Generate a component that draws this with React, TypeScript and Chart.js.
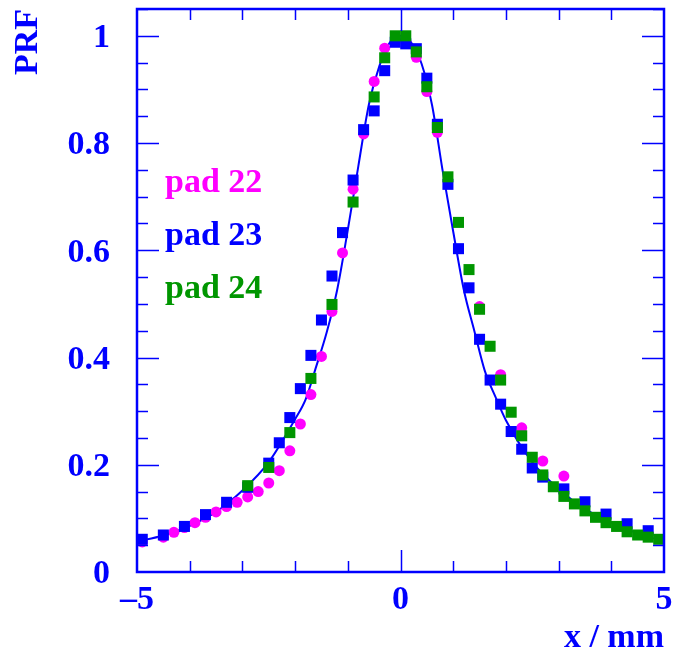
import React, { useEffect, useRef } from 'react';
import { Chart, registerables } from 'chart.js';

Chart.register(...registerables);

// ---- data ----
const pad22X = [-4.9, -4.5, -4.3, -4.1, -3.9, -3.7, -3.5, -3.3, -3.1, -2.9, -2.7, -2.5, -2.3, -2.1, -1.9, -1.7, -1.5, -1.3, -1.1, -0.9, -0.7, -0.5, -0.3, 0.1, 0.3, 0.5, 0.7, 1.5, 1.9, 2.3, 2.7, 3.1];
const pad22Y = [0.056, 0.065, 0.074, 0.083, 0.092, 0.102, 0.112, 0.122, 0.130, 0.140, 0.150, 0.166, 0.189, 0.226, 0.276, 0.331, 0.402, 0.486, 0.595, 0.714, 0.817, 0.915, 0.977, 0.990, 0.960, 0.896, 0.820, 0.495, 0.368, 0.269, 0.207, 0.179];

const pad23X = [-4.9, -4.5, -4.1, -3.7, -3.3, -2.9, -2.5, -2.3, -2.1, -1.9, -1.7, -1.5, -1.3, -1.1, -0.9, -0.7, -0.5, -0.3, -0.1, 0.1, 0.3, 0.5, 0.7, 0.9, 1.1, 1.3, 1.5, 1.7, 1.9, 2.1, 2.3, 2.5, 2.7, 3.1, 3.5, 3.9, 4.3, 4.7];
const pad23Y = [0.061, 0.069, 0.085, 0.107, 0.130, 0.158, 0.203, 0.241, 0.288, 0.342, 0.404, 0.470, 0.552, 0.633, 0.731, 0.825, 0.860, 0.935, 0.988, 0.985, 0.976, 0.921, 0.835, 0.723, 0.603, 0.530, 0.434, 0.358, 0.313, 0.262, 0.229, 0.194, 0.177, 0.155, 0.131, 0.108, 0.090, 0.077];

const pad24X = [-2.9, -2.5, -2.1, -1.7, -1.3, -0.9, -0.5, -0.3, -0.1, 0.1, 0.3, 0.5, 0.7, 0.9, 1.1, 1.3, 1.5, 1.7, 1.9, 2.1, 2.3, 2.5, 2.7, 2.9, 3.1, 3.3, 3.5, 3.7, 3.9, 4.1, 4.3, 4.5, 4.7, 4.9];
const pad24Y = [0.161, 0.195, 0.260, 0.361, 0.499, 0.690, 0.886, 0.959, 1.000, 1.000, 0.970, 0.905, 0.829, 0.737, 0.652, 0.564, 0.490, 0.421, 0.358, 0.298, 0.254, 0.214, 0.181, 0.159, 0.141, 0.127, 0.114, 0.102, 0.092, 0.085, 0.075, 0.069, 0.065, 0.061];

const fitX = [-5.0, -4.5, -4.0, -3.5, -3.0, -2.5, -2.0, -1.8, -1.6, -1.4, -1.2, -1.0, -0.8, -0.6, -0.4, -0.2, 0.0, 0.2, 0.4, 0.6, 0.8, 1.0, 1.2, 1.4, 1.6, 1.8, 2.0, 2.5, 3.0, 3.5, 4.0, 4.5, 5.0];
const fitY = [0.057, 0.068, 0.086, 0.112, 0.152, 0.205, 0.285, 0.322, 0.383, 0.447, 0.527, 0.638, 0.757, 0.872, 0.944, 0.988, 1.000, 0.988, 0.948, 0.870, 0.748, 0.635, 0.527, 0.450, 0.375, 0.327, 0.283, 0.205, 0.155, 0.118, 0.092, 0.072, 0.057];

const xTickValues = [-5, 0, 5];
const yTickValues = [0, 0.2, 0.4, 0.6, 0.8, 1.0];
const seriesNames = ['pad 22', 'pad 23', 'pad 24'];
const xTitle = 'x / mm';
const yTitle = 'PRF';

// ---- styles ----
const BLUE = '#0000ff';
const MAGENTA = '#ff00ff';
const GREEN = '#009600';
const FAMILY = '"Liberation Serif", "Times New Roman", serif';

const toPoints = (xs: number[], ys: number[]) => xs.map((x, i) => ({ x, y: ys[i] }));

const rootFramePlugin = {
  id: 'rootFrame',
  afterDatasetsDraw(chart: any) {
    const { ctx, chartArea, scales } = chart;
    const { left, right, top, bottom } = chartArea;
    const xs = scales.x;
    const ys = scales.y;
    ctx.save();
    ctx.strokeStyle = BLUE;
    ctx.lineWidth = 1.5;
    ctx.beginPath();
    // y-axis ticks (left and right, inward)
    for (let i = 1; i <= 21; i++) {
      const v = i * 0.05;
      const py = Math.round(ys.getPixelForValue(v)) + 0.5;
      const len = i % 4 === 0 ? 22 : 11;
      ctx.moveTo(left, py); ctx.lineTo(left + len, py);
      ctx.moveTo(right, py); ctx.lineTo(right - len, py);
    }
    // x-axis ticks (top and bottom, inward)
    for (let v = -4; v <= 4; v++) {
      const px = Math.round(xs.getPixelForValue(v)) + 0.5;
      const len = v === 0 ? 22 : 11;
      ctx.moveTo(px, bottom); ctx.lineTo(px, bottom - len);
      ctx.moveTo(px, top); ctx.lineTo(px, top + len);
    }
    ctx.stroke();
    // frame
    ctx.lineWidth = 2.5;
    ctx.strokeRect(left, top, right - left, bottom - top);

    // legend texts
    const colors = [MAGENTA, BLUE, GREEN];
    ctx.font = `bold 34px ${FAMILY}`;
    ctx.textAlign = 'left';
    ctx.textBaseline = 'alphabetic';
    seriesNames.forEach((name, i) => {
      ctx.fillStyle = colors[i];
      ctx.fillText(name, left + 28, top + 183 + i * 53);
    });
    ctx.restore();
  },
};

export default function App() {
  const canvasRef = useRef<HTMLCanvasElement | null>(null);

  useEffect(() => {
    const canvas = canvasRef.current;
    if (!canvas) return;
    const tickFont = { family: FAMILY, size: 34, weight: 'bold' as const, lineHeight: 1 };
    const chart = new Chart(canvas, {
      type: 'scatter',
      data: {
        datasets: [
          {
            label: 'fit',
            type: 'line',
            data: toPoints(fitX, fitY),
            borderColor: BLUE,
            borderWidth: 2,
            pointRadius: 0,
            showLine: true,
            fill: false,
            cubicInterpolationMode: 'monotone',
            order: 3,
          } as any,
          {
            label: seriesNames[0],
            data: toPoints(pad22X, pad22Y),
            pointStyle: 'circle',
            pointRadius: 5.5,
            backgroundColor: MAGENTA,
            borderColor: MAGENTA,
            borderWidth: 0,
            order: 2,
          },
          {
            label: seriesNames[1],
            data: toPoints(pad23X, pad23Y),
            pointStyle: 'rect',
            pointRadius: 7.8,
            backgroundColor: BLUE,
            borderColor: BLUE,
            borderWidth: 0,
            order: 1,
          },
          {
            label: seriesNames[2],
            data: toPoints(pad24X, pad24Y),
            pointStyle: 'rect',
            pointRadius: 7.8,
            backgroundColor: GREEN,
            borderColor: GREEN,
            borderWidth: 0,
            order: 0,
          },
        ],
      },
      options: {
        responsive: false,
        animation: false,
        devicePixelRatio: 1,
        layout: { padding: { left: 0, right: 10, top: 9, bottom: 0 } },
        plugins: {
          legend: { display: false },
          tooltip: { enabled: false },
        },
        scales: {
          x: {
            type: 'linear',
            position: 'bottom',
            min: -5,
            max: 5,
            grid: { display: false, drawTicks: false },
            border: { display: false },
            afterBuildTicks: (s: any) => { s.ticks = xTickValues.map((v) => ({ value: v })); },
            afterFit: (s: any) => {
              s.height = 83;
              s.paddingLeft = 0; s.paddingRight = 0; s.paddingTop = 0; s.paddingBottom = 0;
            },
            ticks: {
              autoSkip: false,
              maxRotation: 0,
              minRotation: 0,
              padding: 11.5,
              color: BLUE,
              font: tickFont,
              callback: (v: any) => (Number(v) < 0 ? '\u2013' + Math.abs(Number(v)) : String(v)),
            },
            title: {
              display: true,
              text: xTitle,
              align: 'end',
              color: BLUE,
              font: tickFont,
              padding: { top: 0, bottom: 0 },
            },
          },
          y: {
            type: 'linear',
            position: 'left',
            min: 0,
            max: 1.05,
            grid: { display: false, drawTicks: false },
            border: { display: false },
            afterBuildTicks: (s: any) => { s.ticks = yTickValues.map((v) => ({ value: v })); },
            afterFit: (s: any) => {
              s.width = 137;
              s.paddingLeft = 0; s.paddingRight = 0; s.paddingTop = 0; s.paddingBottom = 0;
            },
            ticks: {
              autoSkip: false,
              padding: 27,
              labelOffset: 2.5,
              color: BLUE,
              font: tickFont,
              callback: (v: any) => {
                const n = Number(v);
                if (n === 0) return '0';
                if (Math.abs(n - 1) < 1e-9) return '1';
                return n.toFixed(1);
              },
            },
            title: {
              display: true,
              text: yTitle,
              align: 'end',
              color: BLUE,
              font: tickFont,
              padding: { top: 11.5, bottom: 0 },
            },
          },
        },
      },
      plugins: [rootFramePlugin],
    } as any);
    return () => chart.destroy();
  }, []);

  return (
    <div style={{ position: 'absolute', left: 0, top: 0, width: 674, height: 655, background: '#fff' }}>
      <canvas ref={canvasRef} width={674} height={655} style={{ display: 'block', width: 674, height: 655 }} />
    </div>
  );
}
